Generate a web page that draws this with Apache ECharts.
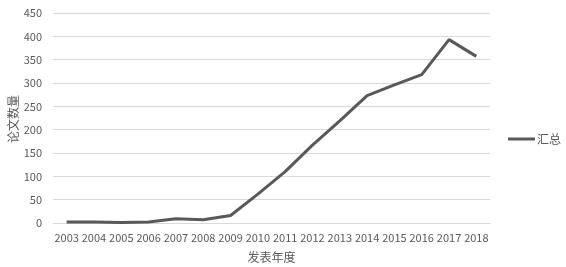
<!DOCTYPE html>
<html><head><meta charset="utf-8">
<script src="https://cdn.jsdelivr.net/npm/echarts@6/dist/echarts.min.js"></script>
<style>html,body{margin:0;padding:0;background:#fff}#c{width:566px;height:267px}</style>
</head><body><div id="c"></div>
<script>
const years = ['2003','2004','2005','2006','2007','2008','2009','2010','2011','2012','2013','2014','2015','2016','2017','2018'];
const totals = [2,2,1,2,9,7,16,62,110,167,219,273,296,318,393,357];
const seriesName = '汇总';
const yTitle = '论文数量';
const xTitle = '发表年度';

const chart = echarts.init(document.getElementById('c'));
const font = '"Noto Sans CJK SC", "Noto Sans", sans-serif';
chart.setOption({
  animation: false,
  textStyle: {fontFamily: font},
  grid: {left: 53, right: 76, top: 13, bottom: 44, outerBoundsMode: 'none', containLabel: false},
  legend: {
    data: [seriesName], orient: 'vertical', left: 508, top: 133, padding: 0,
    icon: 'rect', itemWidth: 27, itemHeight: 3, itemGap: 4,
    textStyle: {color: '#595959', fontSize: 12, fontFamily: font, padding: [0,0,0,-3]}
  },
  graphic: [{
    type: 'text', left: 7, top: 95, rotation: Math.PI / 2,
    style: {text: yTitle, fill: '#595959', font: '12px ' + font}
  }],
  xAxis: {
    type: 'category', data: years, boundaryGap: true,
    name: xTitle, nameLocation: 'middle', nameGap: 28,
    nameTextStyle: {color: '#595959', fontSize: 12, fontFamily: font},
    axisLine: {lineStyle: {color: '#d9d9d9'}},
    axisTick: {show: false},
    axisLabel: {color: '#595959', fontSize: 11, margin: 9, interval: 0, fontFamily: font}
  },
  yAxis: {
    type: 'value', min: 0, max: 450, interval: 50,
    axisLine: {show: false}, axisTick: {show: false},
    axisLabel: {color: '#595959', fontSize: 11, margin: 11, fontFamily: font},
    splitLine: {lineStyle: {color: '#d9d9d9', width: 1}}
  },
  series: [{
    name: seriesName, type: 'line', data: totals, symbol: 'none',
    lineStyle: {color: '#595959', width: 3}, itemStyle: {color: '#595959'}
  }]
});
</script></body></html>
